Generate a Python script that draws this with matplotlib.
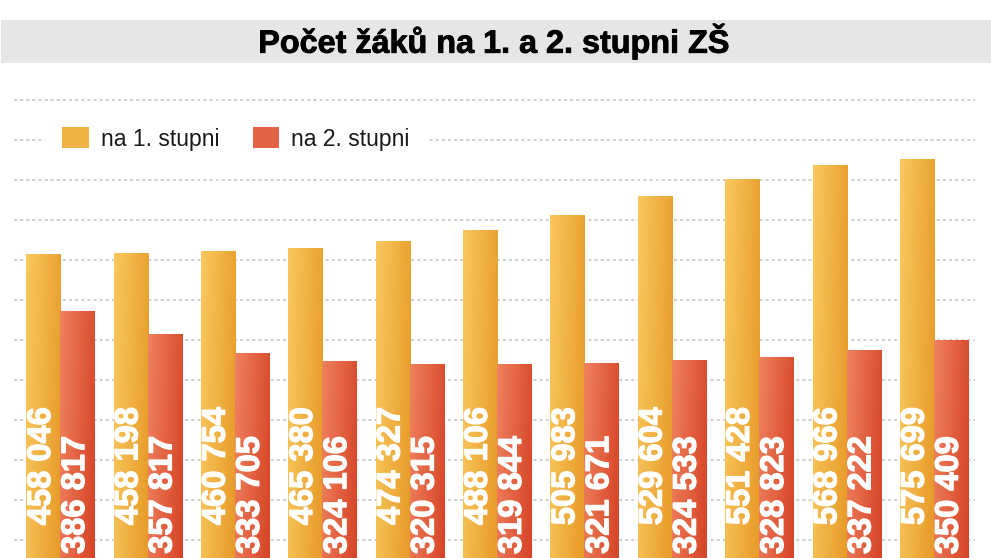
import numpy as np
import matplotlib
matplotlib.use("Agg")
import matplotlib.pyplot as plt
from matplotlib.patches import Rectangle, Patch
import matplotlib.patheffects as pe
import matplotlib.transforms as mtransforms

plt.rcParams['font.family'] = ['Liberation Sans', 'DejaVu Sans']

# pocty zaku na 1. a 2. stupni ZS (11 skolnich roku)
stupen1 = [458046, 458198, 460754, 465380, 474327, 488106, 505983, 529604, 551428, 568966, 575699]
stupen2 = [386817, 357817, 333705, 324106, 320315, 319844, 321671, 324533, 328823, 337222, 350409]
series_names = ["na 1. stupni", "na 2. stupni"]
title = "Počet žáků na 1. a 2. stupni ZŠ"

# gradient colours (left, right) for each series
yellow_l, yellow_r = np.array([249, 200, 95]) / 255, np.array([232, 156, 42]) / 255
red_l, red_r = np.array([239, 130, 95]) / 255, np.array([215, 70, 40]) / 255

W, H = 991, 558
fig = plt.figure(figsize=(W / 100, H / 100), dpi=100)

# grey title band
fig.patches.append(Rectangle((1 / W, 1 - 63 / H), 1, 43 / H, transform=fig.transFigure,
                             facecolor="#e6e6e6", edgecolor="none", zorder=0))
fig.text(494 / W, 1 - 42 / H, title, ha="center", va="center", fontsize=23.3,
         fontweight="bold", color="black",
         path_effects=[pe.withStroke(linewidth=0.6, foreground="black")])

ax = fig.add_axes([14 / W, 0, 961 / W, 468 / H])
x = np.arange(len(stupen1))
bw = 0.39

b1 = ax.bar(x - bw / 2, stupen1, bw, color=yellow_r, edgecolor="none", zorder=2)
b2 = ax.bar(x + bw / 2, stupen2, bw, color=red_r, edgecolor="none", zorder=2)


def gradient(cl, cr):
    tx = np.linspace(0, 1, 64)[None, :]
    ty = np.linspace(0, 1, 200)[:, None]   # 0 = top
    f = np.clip(0.85 * tx + 0.25 * ty, 0, 1)
    return cl[None, None, :] * (1 - f[..., None]) + cr[None, None, :] * f[..., None]


for bars, cl, cr in [(b1, yellow_l, yellow_r), (b2, red_l, red_r)]:
    g = gradient(cl, cr)
    for p in bars:
        x0, y0 = p.get_x(), p.get_y()
        im = ax.imshow(g, extent=(x0, x0 + p.get_width(), y0, y0 + p.get_height()),
                       aspect="auto", zorder=3, interpolation="bilinear")
        im.set_clip_path(p)

# value labels inside bars
trans = mtransforms.blended_transform_factory(ax.transData, ax.transAxes)
lbl_fx = [pe.withStroke(linewidth=0.9, foreground="white")]
for i in range(len(x)):
    ax.text(x[i] - bw / 2 - 0.02, 0.322, f"{stupen1[i]:,}".replace(",", " "), rotation=90,
            ha="center", va="top", color="white", fontsize=23.5, fontweight="bold",
            transform=trans, zorder=5, path_effects=lbl_fx)
    ax.text(x[i] + bw / 2 - 0.02, 0.26, f"{stupen2[i]:,}".replace(",", " "), rotation=90,
            ha="center", va="top", color="white", fontsize=23.5, fontweight="bold",
            transform=trans, zorder=5, path_effects=lbl_fx)

ax.set_xlim(-0.53, len(x) - 0.53)
ax.set_ylim(77500, 662500)
ax.set_yticks(np.arange(100000, 650001, 50000))
ax.grid(axis="y", color="#c2c2c2", linestyle=(0, (2, 2)), linewidth=1.1)
ax.set_axisbelow(True)
ax.tick_params(left=False, bottom=False, labelleft=False, labelbottom=False)
for s in ax.spines.values():
    s.set_visible(False)

handles = [Patch(facecolor=(yellow_l + yellow_r) / 2), Patch(facecolor=(red_l + red_r) / 2)]
leg = ax.legend(handles, series_names, ncol=2, loc="center left",
                bbox_to_anchor=(45 / W, 1 - 139 / H), bbox_transform=fig.transFigure,
                borderaxespad=0, fontsize=16.5, frameon=True, fancybox=False,
                handlelength=1.17, handleheight=1.04, handletextpad=0.52,
                columnspacing=1.45, borderpad=0.75)
leg.get_frame().set_facecolor("white")
leg.get_frame().set_edgecolor("none")
leg.get_frame().set_alpha(1)
for t in leg.get_texts():
    t.set_color("#1a1a1a")

fig.savefig("out.png", dpi=100)
